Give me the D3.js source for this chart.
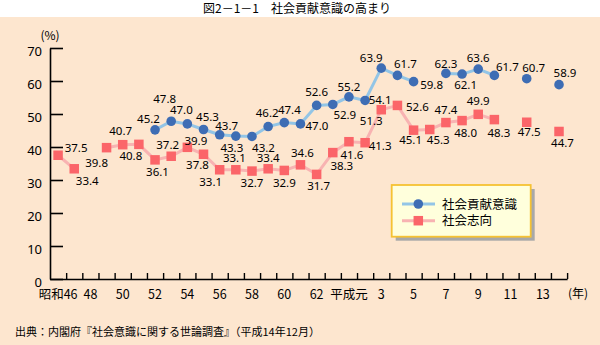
<!DOCTYPE html>
<html lang="ja">
<head>
<meta charset="utf-8">
<script src="https://cdn.jsdelivr.net/npm/d3@7/dist/d3.min.js"></script>
<style>
  html, body { margin: 0; padding: 0; background: #ffffff; }
  svg { display: block; }
  text { font-family: "Noto Sans CJK JP", "Noto Sans", sans-serif; fill: #000; }
</style>
</head>
<body>
<svg id="chart" width="600" height="345"></svg>
<script>
// Survey years (昭和46 = 1971 … 平成14 = 2002)
const years = [1971, 1972, 1973, 1974, 1975, 1976, 1977, 1978, 1979, 1980,
               1981, 1982, 1983, 1984, 1985, 1986, 1987, 1988, 1989, 1990,
               1991, 1992, 1993, 1994, 1995, 1996, 1997, 1998, 1999, 2000,
               2001, 2002];

// 社会貢献意識 (%), null where no survey value
const contribution = [null, null, null, null, null, null, 45.2, 47.8, 47.0, 45.3,
                      43.7, 43.3, 43.2, 46.2, 47.4, 47.0, 52.6, 52.9, 55.2, 54.1,
                      63.9, 61.7, 59.8, null, 62.3, 62.1, 63.6, 61.7, null, 60.7,
                      null, 58.9];

// 社会志向 (%)
const orientation = [37.5, 33.4, null, 39.8, 40.7, 40.8, 36.1, 37.2, 39.9, 37.8,
                     33.1, 33.1, 32.7, 33.4, 32.9, 34.6, 31.7, 38.3, 41.6, 41.3,
                     51.3, 52.6, 45.1, 45.3, 47.4, 48.0, 49.9, 48.3, null, 47.5,
                     null, 44.7];

// Axis labels
const xLabelYears = [1971, 1973, 1975, 1977, 1979, 1981, 1983, 1985, 1987, 1989,
                     1991, 1993, 1995, 1997, 1999, 2001];
const xLabels = ["昭和46", "48", "50", "52", "54", "56", "58", "60", "62", "平成元",
                 "3", "5", "7", "9", "11", "13"];
const yTicks = [0, 10, 20, 30, 40, 50, 60, 70];

const seriesNames = ["社会貢献意識", "社会志向"];

// Value-label placement around each marker (dx, dy from the marker centre)
const contributionLabelOffset = {
  1977: [-6.5, -10.5], 1978: [-6.5, -22], 1979: [-6, -14], 1980: [4, -13],
  1981: [7, -9], 1982: [-4, 11.5], 1983: [11.5, 11], 1984: [-1, -13.3],
  1985: [5, -12.7], 1986: [16.5, 2], 1987: [0, -13.3], 1988: [12, 10],
  1989: [0, -10], 1990: [15, -1], 1991: [-10, -10], 1992: [8, -11.5],
  1993: [18, 3.5], 1995: [0, -10], 1996: [3.5, 11], 1997: [0, -11],
  1998: [13, -8.3], 2000: [7, -11], 2002: [6, -11.5]
};
const orientationLabelOffset = {
  1971: [18, -7.5], 1972: [13, 12.5], 1974: [-10, 15.5], 1975: [-2, -14],
  1976: [-8, 11], 1977: [2.5, 11.7], 1978: [-3.5, -11], 1979: [8.5, -6],
  1980: [-6, 11], 1981: [-9, 11.7], 1982: [-1.5, -11.5], 1983: [0, 11.5],
  1984: [0, -10.5], 1985: [0, 12], 1986: [2, -11.8], 1987: [2, 11.7],
  1988: [9, 13], 1989: [3, 13], 1990: [15, 3], 1991: [-10, 10.7],
  1992: [20, 1], 1993: [-3, 10], 1994: [8.5, 10], 1995: [0, -12.5],
  1996: [3.5, 12.5], 1997: [0, -13.5], 1998: [4.5, 13], 2000: [2.5, 10],
  2002: [3.5, 11]
};

const svg = d3.select("#chart");
const W = 600, H = 345;

// Peach panel below the title strip
svg.append("rect").attr("x", 0).attr("y", 17).attr("width", W).attr("height", H - 17)
  .attr("fill", "#fde6cf");

svg.append("text").attr("x", 297).attr("y", 8.5).attr("dy", "0.36em")
  .attr("text-anchor", "middle").style("font-size", "12px")
  .text("図2－1－1　社会貢献意識の高まり");

const plot = { left: 50, right: 567.1, top: 48, bottom: 279 };

const x = d3.scaleBand().domain(years).range([plot.left, plot.right]).paddingInner(0).paddingOuter(0);
const cx = yr => x(yr) + x.bandwidth() / 2;
const y = d3.scaleLinear().domain([0, 70]).range([plot.bottom, plot.top]);

// Y axis: ticks pointing into the plot
const yAxis = d3.axisLeft(y).tickValues(yTicks).tickSize(-13).tickSizeOuter(0).tickPadding(8);
const gy = svg.append("g").attr("transform", `translate(${plot.left},0)`).call(yAxis);
gy.select(".domain").attr("stroke", "#000").attr("stroke-width", 1.6);
gy.selectAll(".tick line").attr("stroke", "#000").attr("stroke-width", 1.6);
gy.selectAll(".tick text").style("font-size", "13px").attr("dy", "0.58em")
  .style("font-family", "\"Noto Sans\", sans-serif");

svg.append("text").attr("x", 50).attr("y", 36).attr("dy", "0.35em")
  .attr("text-anchor", "middle").style("font-size", "12px").text("(%)");

// X axis: small ticks at year boundaries, labels under every other year
const boundaries = years.map(d => x(d)).slice(1).concat([plot.right]);
const xb = d3.scaleLinear().domain([plot.left, plot.right]).range([plot.left, plot.right]);
const xAxis = d3.axisBottom(xb).tickValues(boundaries).tickSize(-6).tickSizeOuter(0).tickFormat("");
const gx = svg.append("g").attr("transform", `translate(0,${plot.bottom})`).call(xAxis);
gx.select(".domain").attr("stroke", "#000").attr("stroke-width", 1.6);
gx.selectAll(".tick line").attr("stroke", "#000").attr("stroke-width", 1.4);

svg.append("g").selectAll("text").data(xLabelYears).join("text")
  .attr("x", d => cx(d)).attr("y", 294).attr("dy", "0.36em")
  .attr("text-anchor", "middle").style("font-size", "12.5px")
  .text((d, i) => xLabels[i]);

svg.append("text").attr("x", 578).attr("y", 294).attr("dy", "0.36em")
  .attr("text-anchor", "middle").style("font-size", "12px").text("(年)");

// Series
const toPoints = vals => years.map((yr, i) => ({ yr, v: vals[i] }));
const contribPts = toPoints(contribution);
const orientPts = toPoints(orientation);

const line = d3.line().defined(d => d.v != null).x(d => cx(d.yr)).y(d => y(d.v));

const blueLine = "#93c5e6", blueMark = "#3e6db4";
const redLine = "#f8b3b2", redMark = "#fb6569";

svg.append("path").datum(orientPts).attr("d", line)
  .attr("fill", "none").attr("stroke", redLine).attr("stroke-width", 3);
svg.append("path").datum(contribPts).attr("d", line)
  .attr("fill", "none").attr("stroke", blueLine).attr("stroke-width", 3);

const sq = 9.5;
svg.append("g").selectAll("rect").data(orientPts.filter(d => d.v != null)).join("rect")
  .attr("x", d => cx(d.yr) - sq / 2).attr("y", d => y(d.v) - sq / 2)
  .attr("width", sq).attr("height", sq).attr("fill", redMark);

svg.append("g").selectAll("circle").data(contribPts.filter(d => d.v != null)).join("circle")
  .attr("cx", d => cx(d.yr)).attr("cy", d => y(d.v)).attr("r", 4.8).attr("fill", blueMark);

// Value labels
function valueLabels(pts, offsets) {
  svg.append("g").selectAll("text").data(pts.filter(d => d.v != null)).join("text")
    .attr("x", d => cx(d.yr) + (offsets[d.yr] || [0, -12])[0])
    .attr("y", d => y(d.v) + (offsets[d.yr] || [0, -12])[1])
    .attr("dy", "0.36em").attr("text-anchor", "middle")
    .style("font-size", "11.5px").style("font-family", "\"Noto Sans\", sans-serif")
    .text(d => d3.format(".1f")(d.v));
}
valueLabels(orientPts, orientationLabelOffset);
valueLabels(contribPts, contributionLabelOffset);

// Legend
const lg = svg.append("g");
lg.append("rect").attr("x", 395.7).attr("y", 189).attr("width", 139).attr("height", 51.7).attr("fill", "#a8a8a8");
lg.append("rect").attr("x", 391.7).attr("y", 185).attr("width", 139).attr("height", 51.7)
  .attr("fill", "#ffffdc").attr("stroke", "#f6c232").attr("stroke-width", 1.8);
const legendRows = [
  { name: seriesNames[0], ly: 204, lineC: blueLine, markC: blueMark, shape: "circle" },
  { name: seriesNames[1], ly: 220.7, lineC: redLine, markC: redMark, shape: "square" }
];
legendRows.forEach(r => {
  lg.append("line").attr("x1", 402).attr("x2", 435).attr("y1", r.ly).attr("y2", r.ly)
    .attr("stroke", r.lineC).attr("stroke-width", 3);
  if (r.shape === "circle") {
    lg.append("circle").attr("cx", 418.3).attr("cy", r.ly).attr("r", 4.8).attr("fill", r.markC);
  } else {
    lg.append("rect").attr("x", 418.3 - sq / 2).attr("y", r.ly - sq / 2)
      .attr("width", sq).attr("height", sq).attr("fill", r.markC);
  }
  lg.append("text").attr("x", 442).attr("y", r.ly).attr("dy", "0.36em")
    .style("font-size", "12.5px").text(r.name);
});

// Source note
svg.append("text").attr("x", 15).attr("y", 332.5).attr("dy", "0.36em")
  .style("font-size", "11px")
  .text("出典：内閣府『社会意識に関する世論調査』（平成14年12月）");
</script>
</body>
</html>
